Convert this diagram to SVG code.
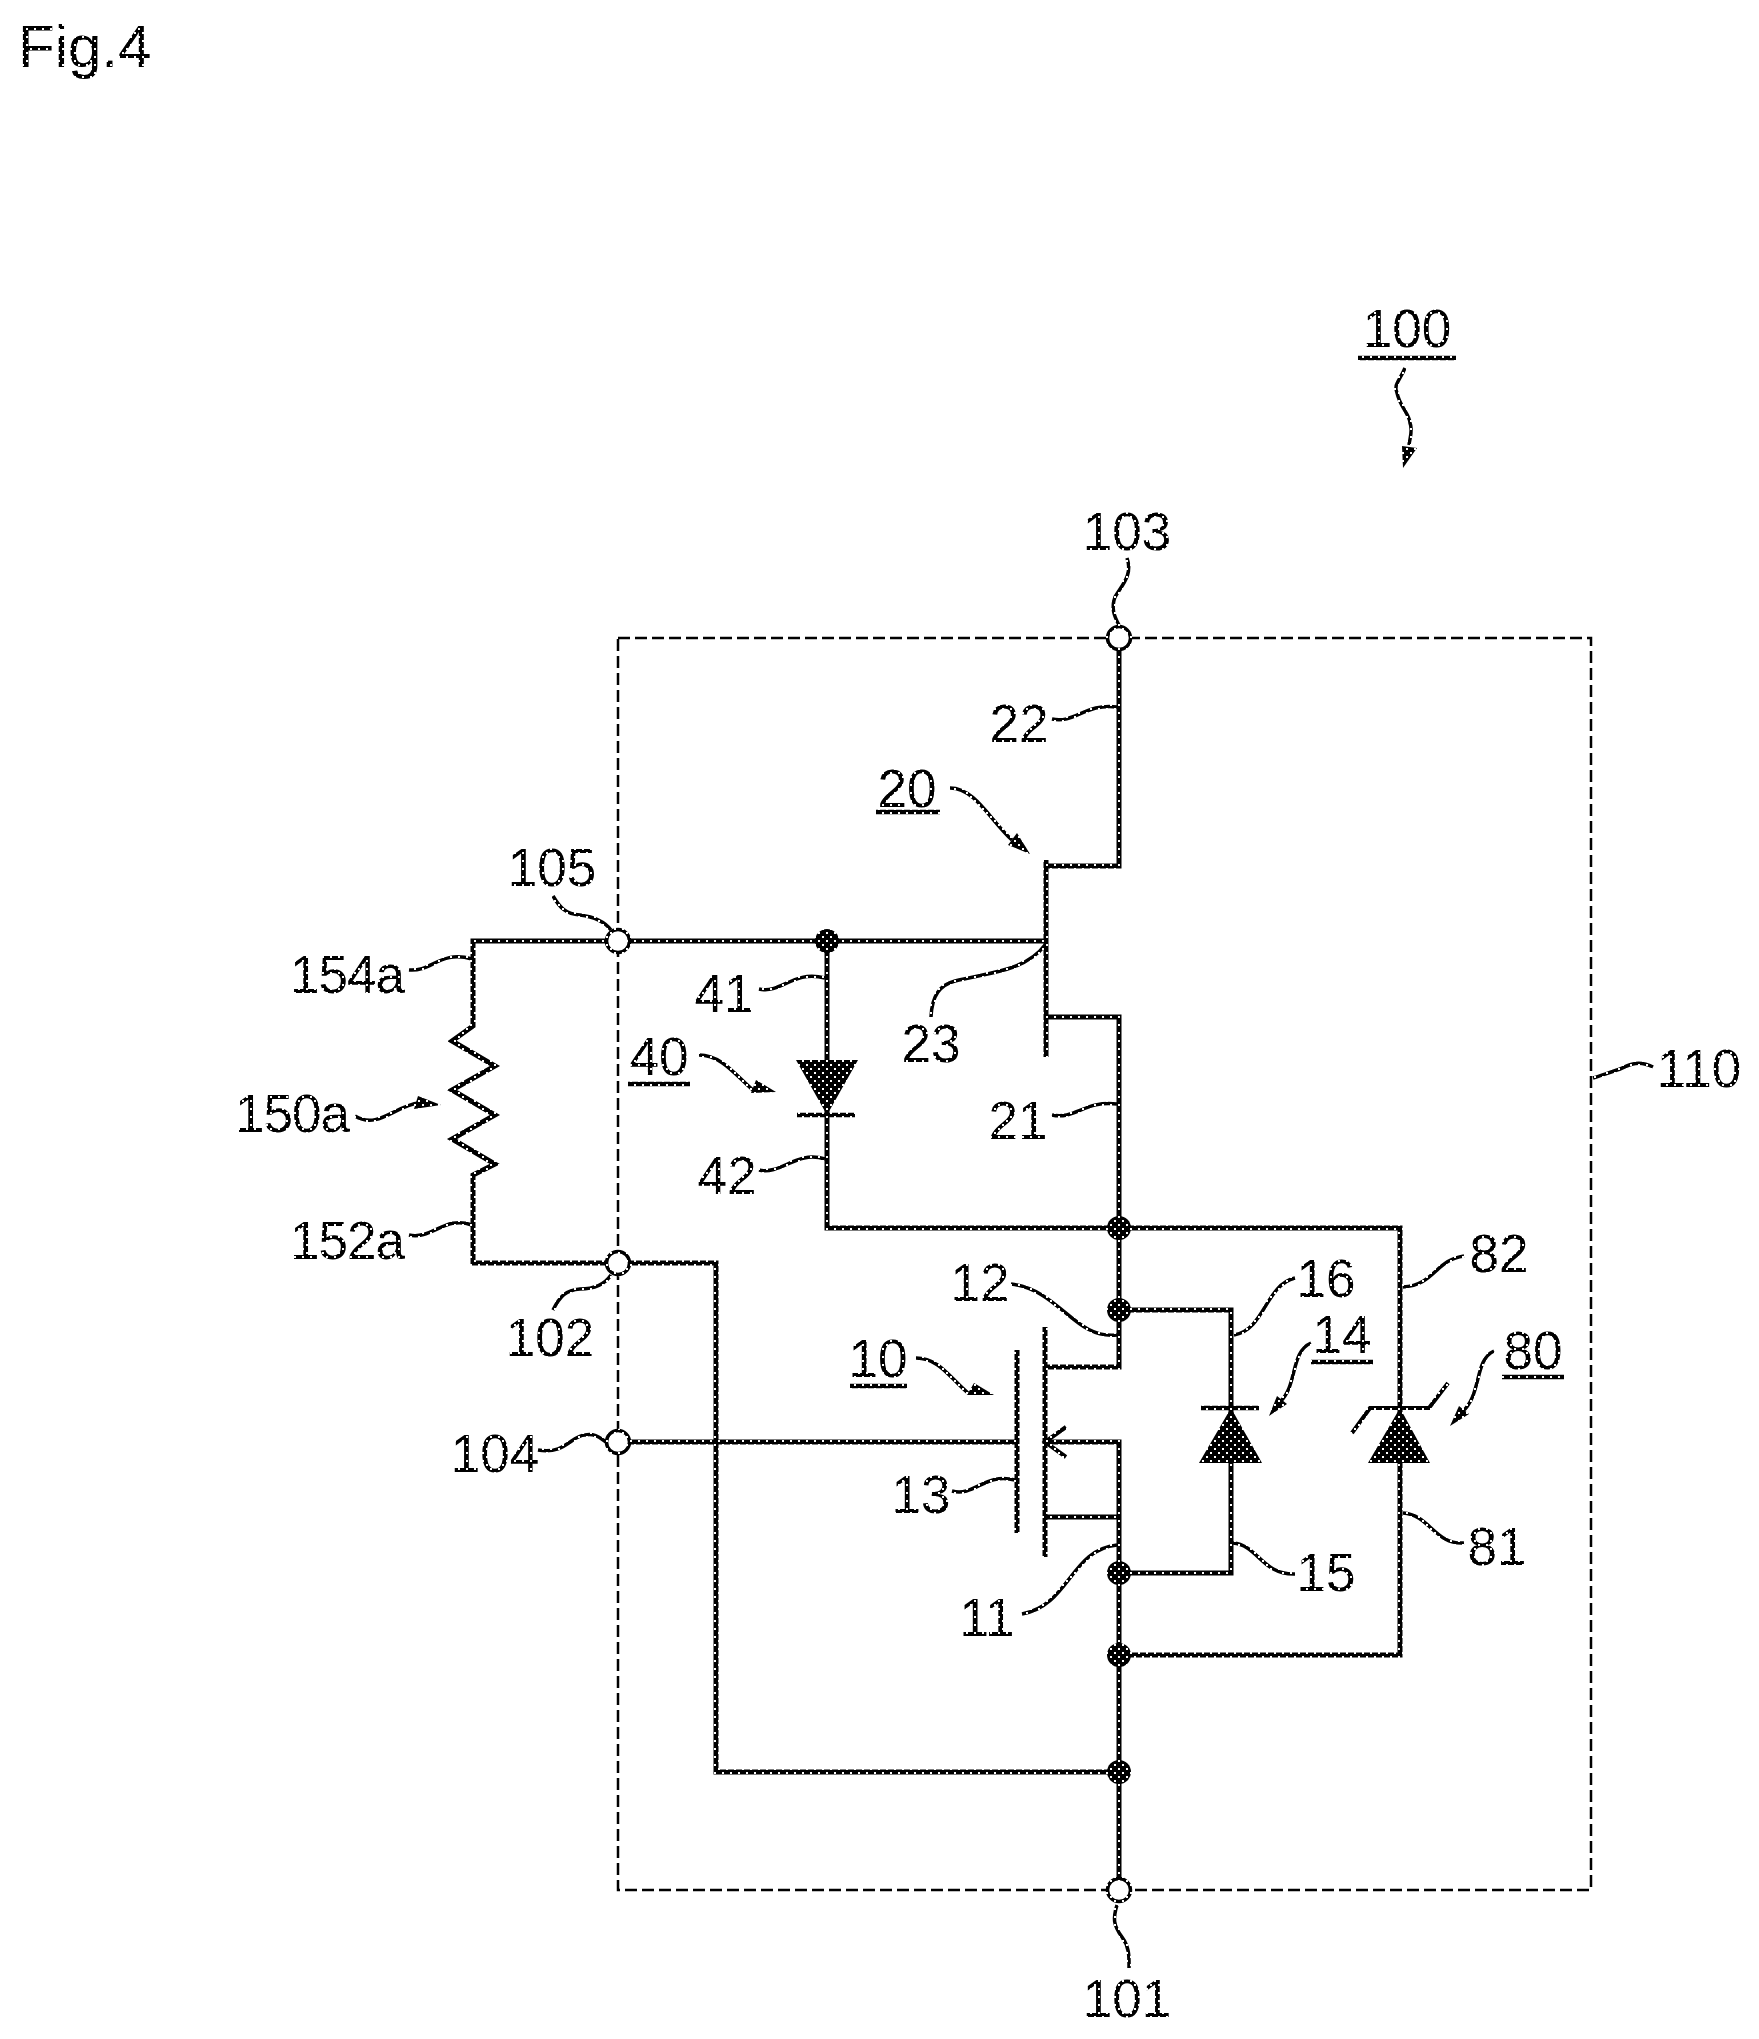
<svg xmlns="http://www.w3.org/2000/svg" width="1759" height="2039" viewBox="0 0 1759 2039">
<style>
text{font-family:"Liberation Sans",Arial,sans-serif;font-size:53px;fill:url(#ht);text-anchor:middle}
.s{letter-spacing:-1px}
.w{fill:none;stroke:url(#ht);stroke-width:5;stroke-linejoin:miter}
.n{fill:none;stroke:url(#ht);stroke-width:4}
.l{fill:none;stroke:url(#ht);stroke-width:3.5}
.u{fill:none;stroke:url(#ht);stroke-width:4.5}
.f{fill:url(#ht)}
.o{fill:#fff;stroke:url(#ht);stroke-width:3.5}
</style>
<defs>
<pattern id="ht" width="8" height="8" patternUnits="userSpaceOnUse">
<rect width="8" height="8" fill="#000"/>
<rect x="2" y="4" width="2" height="2" fill="#fff"/>
<rect x="6" y="0" width="2" height="2" fill="#fff"/>
</pattern>
</defs>
<rect width="1759" height="2039" fill="#fff"/>
<text x="18" y="67" style="font-size:60px;text-anchor:start">Fig.4</text>
<rect id="box110" x="618" y="638" width="973" height="1252" fill="none" stroke="#000" stroke-width="2.5" stroke-dasharray="12 5"/>
<g id="connectors">
<path class="w" d="M1119 638V866H1046"/>
<path class="w" d="M618 941H1046"/>
<path class="w" d="M1046 1017H1119V1367H1045"/>
<path class="w" d="M827 941V1228H1400V1655H1119"/>
<path class="w" d="M1119 1310H1231V1573H1119"/>
<path class="w" d="M1045 1442H1119V1890"/>
<path class="w" d="M1045 1517H1119"/>
<path class="w" d="M618 1442H1017"/>
<path class="w" d="M618 1263H716V1772H1119"/>
<path class="w" d="M618 941H473V1026L452 1041L495 1066L452 1090L495 1115L452 1139L495 1164L473 1175V1263H618"/>
</g>
<g id="q20"><path class="w" d="M1046 860V1057"/></g>
<g id="q10"><path class="w" d="M1017 1350V1533"/><path class="w" d="M1045 1327V1557"/><path class="n" d="M1066 1427L1045 1442L1066 1457"/></g>
<g id="d40"><path class="f" d="M796 1060H858L827 1115z"/><path class="u" d="M797 1115H855"/></g>
<g id="d14"><path class="f" d="M1199 1463H1262L1231 1408z"/><path class="u" d="M1201 1408H1259"/></g>
<g id="d80"><path class="f" d="M1368 1463H1430L1400 1408z"/><path class="n" d="M1352 1433L1370 1408H1429L1448 1383"/></g>
<g id="nodes">
<circle class="f" cx="827" cy="941" r="12"/><circle class="f" cx="1119" cy="1228" r="12"/><circle class="f" cx="1119" cy="1310" r="12"/><circle class="f" cx="1119" cy="1573" r="12"/><circle class="f" cx="1119" cy="1655" r="12"/><circle class="f" cx="1119" cy="1772" r="12"/>
<circle class="o" cx="1119" cy="638" r="11.5"/><circle class="o" cx="1119" cy="1890" r="11.5"/><circle class="o" cx="618" cy="941" r="11.5"/><circle class="o" cx="618" cy="1263" r="11.5"/><circle class="o" cx="618" cy="1442" r="11.5"/>
</g>
<g id="leaders">
<path class="l" d="M1405 368C1400 380 1393 385 1397 393C1400 407 1410 415 1410 423C1413 430 1410 437 1409 445"/><path class="f" d="M1402 446L1417 448L1403 468z"/>
<path class="l" d="M1127 558C1133 575 1122 585 1115 597C1111 608 1114 616 1119 625"/>
<path class="l" d="M1052 719C1075 724 1085 703 1117 707"/>
<path class="l" d="M950 788C975 788 990 820 1012 840"/><path class="f" d="M1008 845L1017 833L1030 854z"/>
<path class="l" d="M553 896C560 908 566 914 580 915C595 917 605 922 611 930"/>
<path class="l" d="M409 970C432 972 440 950 472 959"/>
<path class="l" d="M355 1116C378 1130 396 1105 419 1103"/><path class="f" d="M414 1109L418 1096L441 1105z"/>
<path class="l" d="M409 1235C432 1240 445 1215 472 1225"/>
<path class="l" d="M553 1310C560 1296 566 1290 580 1289C595 1289 605 1284 611 1275"/>
<path class="l" d="M538 1450C565 1455 572 1435 585 1435C595 1433 600 1438 606 1442"/>
<path class="l" d="M759 989C782 994 792 970 825 978"/>
<path class="l" d="M699 1055C722 1055 736 1076 754 1091"/><path class="f" d="M751 1093L756 1080L776 1092z"/>
<path class="l" d="M759 1170C782 1175 796 1150 825 1159"/>
<path class="l" d="M931 1017C932 995 940 985 955 981C985 973 1025 972 1045 945"/>
<path class="l" d="M1052 1115C1075 1120 1085 1100 1117 1104"/>
<path class="l" d="M1011 1284C1060 1290 1075 1340 1117 1335"/>
<path class="l" d="M916 1358C939 1358 950 1378 968 1393"/><path class="f" d="M967 1395L974 1383L994 1395z"/>
<path class="l" d="M952 1491C975 1497 985 1472 1015 1480"/>
<path class="l" d="M1022 1614C1070 1605 1070 1550 1117 1545"/>
<path class="l" d="M1295 1278C1265 1285 1265 1330 1234 1335"/>
<path class="l" d="M1311 1343C1290 1352 1298 1385 1280 1402"/><path class="f" d="M1277 1396L1287 1404L1269 1416z"/>
<path class="l" d="M1464 1256C1435 1260 1435 1285 1403 1287"/>
<path class="l" d="M1494 1351C1474 1360 1482 1395 1462 1412"/><path class="f" d="M1459 1406L1469 1414L1450 1426z"/>
<path class="l" d="M1403 1513C1430 1515 1435 1545 1464 1543"/>
<path class="l" d="M1233 1543C1258 1545 1262 1575 1295 1574"/>
<path class="l" d="M1653 1067C1635 1058 1625 1068 1617 1070C1605 1074 1600 1076 1593 1078"/>
<path class="l" d="M1117 1905C1113 1918 1113 1925 1122 1937C1130 1948 1129 1958 1129 1968"/>
</g>
<g id="labels">
<text x="1407" y="347">100</text><path class="u" d="M1358 358H1456"/>
<text x="1127" y="550">103</text>
<text x="1019" y="742">22</text>
<text x="907" y="807">20</text><path class="u" d="M876 812H940"/>
<text x="552" y="886">105</text>
<text class="s" x="347" y="993">154a</text>
<text class="s" x="292" y="1132">150a</text>
<text class="s" x="347" y="1259">152a</text>
<text x="550" y="1356">102</text>
<text x="495" y="1472">104</text>
<text x="724" y="1012">41</text>
<text x="659" y="1075">40</text><path class="u" d="M628 1084H690"/>
<text x="727" y="1194">42</text>
<text x="931" y="1062">23</text>
<text x="1018" y="1139">21</text>
<text x="980" y="1301">12</text>
<text x="878" y="1377">10</text><path class="u" d="M850 1386H907"/>
<text x="921" y="1513">13</text>
<text x="987" y="1636">11</text>
<text x="1326" y="1297">16</text>
<text x="1342" y="1353">14</text><path class="u" d="M1311 1362H1373"/>
<text x="1499" y="1272">82</text>
<text x="1533" y="1369">80</text><path class="u" d="M1502 1377H1564"/>
<text x="1497" y="1565">81</text>
<text x="1326" y="1591">15</text>
<text x="1699" y="1087">110</text>
<text x="1127" y="2017">101</text>
</g>
</svg>
